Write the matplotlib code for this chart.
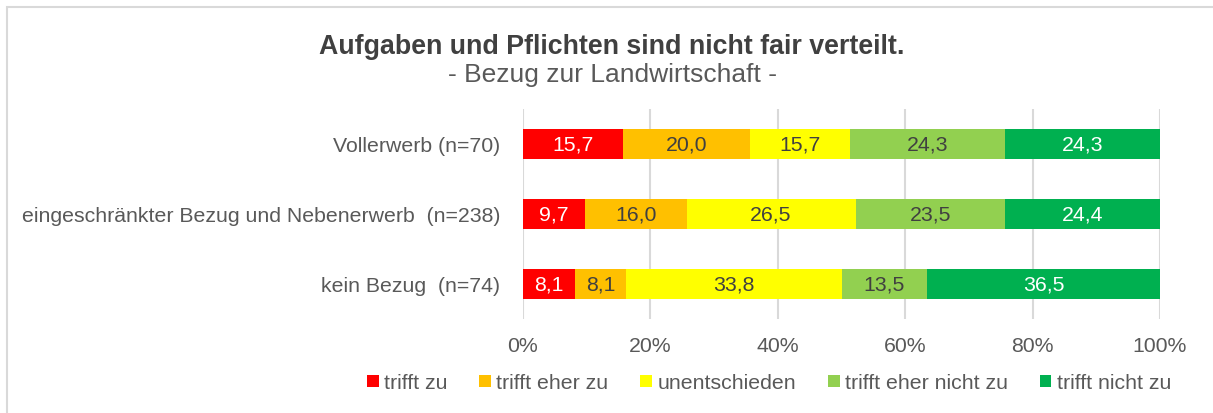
import matplotlib.pyplot as plt
from matplotlib.patches import Rectangle
import numpy as np

plt.rcParams['font.family'] = ['Liberation Sans', 'DejaVu Sans']

# groups, top to bottom
groups = ['Vollerwerb (n=70)',
          'eingeschränkter Bezug und Nebenerwerb  (n=238)',
          'kein Bezug  (n=74)']
answers = ['trifft zu', 'trifft eher zu', 'unentschieden',
           'trifft eher nicht zu', 'trifft nicht zu']

# shares in percent, one list per answer (same order as groups)
trifft_zu = [15.7, 9.7, 8.1]
eher_zu = [20.0, 16.0, 8.1]
unentschieden = [15.7, 26.5, 33.8]
eher_nicht_zu = [24.3, 23.5, 13.5]
nicht_zu = [24.3, 24.4, 36.5]
series = [trifft_zu, eher_zu, unentschieden, eher_nicht_zu, nicht_zu]

colors = ['#FF0000', '#FFC000', '#FFFF00', '#92D050', '#00B050']
label_colors = ['white', '#404040', '#404040', '#404040', 'white']
text_grey = '#595959'
fs = 15.3

fig = plt.figure(figsize=(12.13, 4.14), dpi=100)
W, H = 1213, 414
ax = fig.add_axes([523 / W, 1 - 320 / H, (1160 - 523) / W, (320 - 110) / H])

# chart area frame
fig.patches.append(Rectangle((7 / W, -0.05), 1.1, 1 - 8 / H + 0.05,
                             transform=fig.transFigure, fill=False,
                             edgecolor='#D9D9D9', linewidth=1.5))

y = np.arange(len(groups))
left = np.zeros(len(groups))
handles = []
for vals, col, tcol, name in zip(series, colors, label_colors, answers):
    vals = np.array(vals)
    bars = ax.barh(y, vals, left=left, height=0.43, color=col, label=name,
                   zorder=3)
    handles.append(bars)
    for yi, (l, v) in enumerate(zip(left, vals)):
        ax.text(l + v / 2, yi, f'{v:.1f}'.replace('.', ','), ha='center',
                va='center', color=tcol, fontsize=fs, zorder=4)
    left += vals

ax.set_xlim(0, 100)
ax.set_ylim(2.5, -0.5)
ax.set_xticks(np.arange(0, 101, 20))
ax.set_xticklabels([f'{t}%' for t in range(0, 101, 20)])
ax.set_yticks(y)
ax.set_yticklabels(groups)
ax.tick_params(axis='both', length=0, labelsize=fs, labelcolor=text_grey)
ax.tick_params(axis='x', pad=12)
ax.tick_params(axis='y', pad=16.5)
ax.grid(axis='x', color='#D9D9D9', linewidth=1.5, zorder=0)
for s in ax.spines.values():
    s.set_visible(False)

fig.text(612 / W, 1 - 47 / H, 'Aufgaben und Pflichten sind nicht fair verteilt.',
         ha='center', va='center', fontsize=19.3, fontweight='bold',
         color='#404040')
fig.text(612 / W, 1 - 75 / H, '- Bezug zur Landwirtschaft -', ha='center',
         va='center', fontsize=19, color=text_grey)

leg = fig.legend(handles=handles, labels=answers, loc='center',
                 bbox_to_anchor=(769 / W, 1 - 384 / H), ncol=5,
                 frameon=False, fontsize=fs, handlelength=0.55,
                 handleheight=0.55, handletextpad=0.25, columnspacing=1.5)
for t in leg.get_texts():
    t.set_color(text_grey)

fig.savefig('out.png', dpi=100)
